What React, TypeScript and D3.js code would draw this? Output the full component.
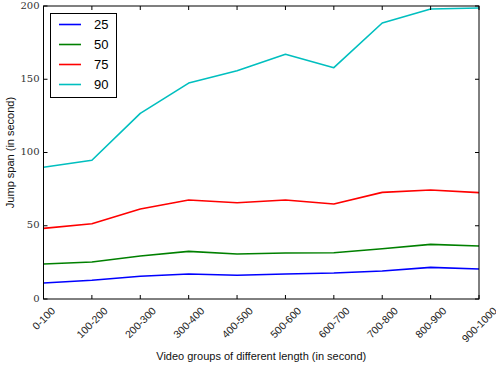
import * as d3 from 'd3'
import { useEffect, useRef } from 'react'

const groups = ['0-100', '100-200', '200-300', '300-400', '400-500', '500-600', '600-700', '700-800', '800-900', '900-1000']
const seriesNames = ['25', '50', '75', '90']
const p25 = [10.9, 12.8, 15.5, 17.1, 16.2, 17.1, 17.7, 19.1, 21.6, 20.5]
const p50 = [23.9, 25.3, 29.4, 32.5, 30.7, 31.4, 31.6, 34.3, 37.3, 36.2]
const p75 = [48.2, 51.4, 61.4, 67.6, 65.7, 67.6, 64.8, 72.8, 74.4, 72.6]
const p90 = [89.9, 94.7, 126.7, 147.4, 155.8, 167, 157.9, 188.4, 198, 198.6]
const yTicks = [0, 50, 100, 150, 200]
const colors = ['#0000ff', '#008000', '#ff0000', '#00bfbf']

export default function App() {
  const svgRef = useRef<SVGSVGElement>(null)

  useEffect(() => {
    const svg = d3.select(svgRef.current)
    svg.selectAll('*').remove()

    const left = 43.5
    const right = 479
    const top = 6
    const bottom = 299

    const x = d3.scaleLinear().domain([0, groups.length - 1]).range([left, right])
    const y = d3.scaleLinear().domain([0, 200]).range([bottom, top])

    const allSeries = [p25, p50, p75, p90]

    const line = d3
      .line<number>()
      .x((_, i) => x(i))
      .y((d) => y(d))

    allSeries.forEach((s, k) => {
      svg
        .append('path')
        .datum(s)
        .attr('fill', 'none')
        .attr('stroke', colors[k])
        .attr('stroke-width', 1.6)
        .attr('stroke-linejoin', 'round')
        .attr('d', line)
    })

    // frame
    svg
      .append('rect')
      .attr('x', left)
      .attr('y', top)
      .attr('width', right - left)
      .attr('height', bottom - top)
      .attr('fill', 'none')
      .attr('stroke', '#000')
      .attr('stroke-width', 1)

    // x ticks (inward, top and bottom), labels rotated and centred under tick
    const fs = 10.5
    groups.forEach((g, i) => {
      const xi = x(i)
      svg.append('line').attr('x1', xi).attr('x2', xi).attr('y1', bottom).attr('y2', bottom - 4).attr('stroke', '#000')
      svg.append('line').attr('x1', xi).attr('x2', xi).attr('y1', top).attr('y2', top + 4).attr('stroke', '#000')
      const t = svg
        .append('text')
        .attr('text-anchor', 'middle')
        .attr('dominant-baseline', 'central')
        .attr('font-family', 'Liberation Sans, Arial, sans-serif')
        .attr('font-size', fs)
        .attr('fill', '#222')
        .text(g)
      const len = (t.node() as SVGTextElement).getComputedTextLength()
      const half = ((len + fs * 0.75) * Math.SQRT1_2) / 2
      t.attr('transform', `translate(${xi},${bottom + 7 + half}) rotate(-45)`)
    })

    // y ticks
    yTicks.forEach((t) => {
      const yi = y(t)
      svg.append('line').attr('x1', left).attr('x2', left + 4).attr('y1', yi).attr('y2', yi).attr('stroke', '#000')
      svg.append('line').attr('x1', right).attr('x2', right - 4).attr('y1', yi).attr('y2', yi).attr('stroke', '#000')
      svg
        .append('text')
        .attr('x', left - 4)
        .attr('y', yi)
        .attr('text-anchor', 'end')
        .attr('dominant-baseline', 'middle')
        .attr('font-family', 'DejaVu Serif, serif')
        .attr('font-size', 10)
        .attr('fill', '#333')
        .text(t)
    })

    // axis labels
    svg
      .append('text')
      .attr('x', (left + right) / 2)
      .attr('y', 360)
      .attr('text-anchor', 'middle')
      .attr('font-family', 'Liberation Sans, Arial, sans-serif')
      .attr('font-size', 11)
      .attr('fill', '#111')
      .text('Video groups of different length (in second)')

    svg
      .append('text')
      .attr('transform', `translate(14,${(top + bottom) / 2}) rotate(-90)`)
      .attr('text-anchor', 'middle')
      .attr('font-family', 'Liberation Sans, Arial, sans-serif')
      .attr('font-size', 11)
      .attr('fill', '#111')
      .text('Jump span (in second)')

    // legend
    const lg = svg.append('g')
    lg.append('rect')
      .attr('x', 50.5)
      .attr('y', 13.5)
      .attr('width', 66)
      .attr('height', 84)
      .attr('fill', '#fff')
      .attr('stroke', '#000')
      .attr('stroke-width', 1)
    seriesNames.forEach((n, k) => {
      const ly = 24.5 + k * 20
      lg.append('line').attr('x1', 59).attr('x2', 81).attr('y1', ly).attr('y2', ly).attr('stroke', colors[k]).attr('stroke-width', 1.6)
      lg.append('text')
        .attr('x', 94)
        .attr('y', ly)
        .attr('dominant-baseline', 'central')
        .attr('font-family', 'Liberation Sans, Arial, sans-serif')
        .attr('font-size', 13)
        .attr('fill', '#000')
        .text(n)
    })
  }, [])

  return (
    <svg
      ref={svgRef}
      width={496}
      height={368}
      style={{ position: 'absolute', left: 0, top: 0, background: '#fff' }}
    />
  )
}
